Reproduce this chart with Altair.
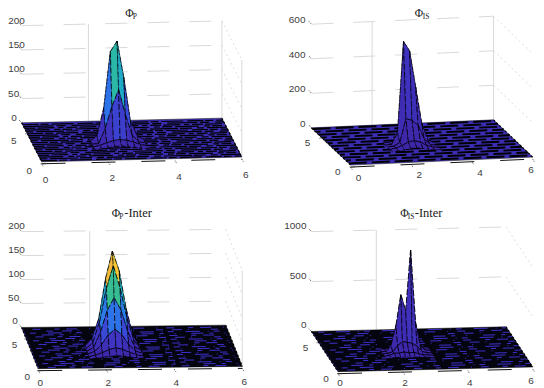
import altair as alt
import pandas as pd

# ---- values ----
X_TICKS = [0, 2, 4, 6]
Y_TICKS = [0, 5]
Y_MAX = 6.5
X_MAX = 6.0

Z_TICKS_P = [0, 50, 100, 150, 200]
Z_TICKS_IS = [0, 200, 400, 600]
Z_TICKS_PI = [0, 50, 100, 150, 200]
Z_TICKS_ISI = [0, 500, 1000]

# surface heights near the peak: rows run back to front, columns left to right
Z_P = [
    [0, 0, 5, 10, 15, 10, 5, 0, 0],
    [0, 11, 67, 183, 204, 129, 39, 8, 0],
    [0, 0, 31, 76, 110, 59, 17, 2, 0],
    [0, 3, 8, 12, 14, 12, 8, 3, 0],
    [0, 2, 4, 6, 7, 5, 3, 1, 0],
]
Z_IS = [
    [0, 0, 10, 60, 60, 40, 10, 0, 0],
    [0, 0, 67, 595, 538, 327, 115, 20, 0],
    [0, 5, 25, 160, 150, 120, 40, 5, 0],
    [0, 8, 20, 40, 45, 35, 15, 5, 0],
    [0, 3, 8, 15, 18, 12, 5, 2, 0],
]
Z_PI = [
    [0, 3, 10, 50, 90, 50, 25, 5, 0],
    [5, 19, 61, 144, 201, 160, 82, 26, 0],
    [3, 15, 59, 128, 175, 128, 66, 20, 0],
    [2, 10, 42, 87, 113, 87, 42, 10, 2],
    [1, 6, 20, 40, 52, 40, 20, 6, 1],
    [0, 3, 8, 14, 18, 14, 8, 3, 0],
    [0, 1, 3, 5, 6, 5, 3, 1, 0],
]
Z_ISI = [
    [0, 0, 10, 20, 60, 40, 80, 30, 5, 0, 0],
    [0, 0, 60, 260, 566, 400, 1010, 293, 43, 5, 0],
    [0, 5, 20, 80, 120, 110, 100, 70, 15, 3, 0],
    [0, 10, 30, 30, 40, 30, 35, 20, 5, 5, 0],
    [2, 5, 15, 10, 15, 8, 12, 5, 10, 3, 0],
]

PARULA = ["#3e26a8", "#3f38c8", "#3060e8", "#2a85ea", "#1fb0c0", "#35bd95", "#90c060", "#f5b93a", "#f9fb15"]

# each panel's camera: where the floor corners fall, and pixels per unit of height
PANELS = [
    dict(name="P", FL=(41.7, 160.7), FR=(242.3, 156.0), BL=(21.7, 121.7), ez=0.487,
         zt=Z_TICKS_P, Z=Z_P, x0=2.56, y0=3.25, dx=0.2, dy=0.5, ridge=1, kmin=-4, clim=220,
         walls=[(2, Y_MAX), (6, Y_MAX), (6, 0)], base="#3b2db2", ink="black", rows=0.3, rw=1.2,
         pats=["a", "b", "c", "d", "e"], zoff=(-5, -5), xoff=(4, 18), yoff=(-12.5, 9)),
    dict(name="IS", FL=(351.3, 164.0), FR=(533.7, 156.0), BL=(312.0, 126.7), ez=0.173,
         zt=Z_TICKS_IS, Z=Z_IS, x0=2.56, y0=3.1, dx=0.2, dy=0.4, ridge=1, kmin=-4, clim=2400,
         walls=[(2, Y_MAX), (6, Y_MAX)], base="#3b2db2", ink="black", rows=0.5, rw=1.9,
         pats=["s", "u"], zoff=(-6, -4), xoff=(8, 13), yoff=(-13, 7)),
    dict(name="PI", FL=(38.3, 368.0), FR=(242.7, 365.7), BL=(21.7, 326.7), ez=0.48,
         zt=Z_TICKS_PI, Z=Z_PI, x0=2.42, y0=3.2, dx=0.2, dy=0.35, ridge=1, kmin=-4, clim=180,
         walls=[(2, Y_MAX), (6, 0)], base="#050510", ink="#3c2fc8", rows=0.3, rw=1.0,
         pats=["f", "g", "h", "i"], zoff=(-4, -6), xoff=(2, 16), yoff=(-11, 8)),
    dict(name="ISI", FL=(338.7, 371.0), FR=(533.7, 366.3), BL=(312.0, 330.7), ez=0.1,
         zt=Z_TICKS_ISI, Z=Z_ISI, x0=2.62, y0=3.04, dx=0.15, dy=0.4, ridge=1, kmin=-6, clim=3000,
         walls=[(2, Y_MAX)], base="#050510", ink="#3c2fc8", rows=0.36, rw=1.0,
         pats=["f", "h", "g", "i"], zoff=(-5, -6), xoff=(2, 14), yoff=(-12, 7)),
]

DASHES = {
    "a": [16, 2, 8, 3, 22, 4], "b": [7, 3, 28, 2, 12, 5], "c": [24, 5, 6, 2, 10, 3],
    "d": [11, 2, 17, 4, 5, 3], "e": [30, 3, 9, 6], "s": [18, 5], "u": [5, 5, 13, 0],
    "f": [1, 9, 8, 14, 5, 7, 11, 12], "g": [1, 16, 12, 6, 4, 11], "h": [1, 5, 6, 12, 14, 8],
    "i": [1, 22, 7, 9, 10, 6],
}

TITLES = [
    ("\u03a6", 125.5, 16.0, 11.5), ("P", 133.0, 18.0, 7.5),
    ("\u03a6", 415.5, 16.0, 11.5), ("IS", 423.5, 18.0, 7.5),
    ("\u03a6", 112.0, 216.0, 11.5), ("P", 119.5, 218.5, 7.5), ("-Inter", 124.5, 216.0, 12.5),
    ("\u03a6", 401.0, 216.0, 11.5), ("IS", 408.5, 218.5, 7.5), ("-Inter", 415.5, 216.0, 12.5),
]


def hexmix(a, b, t):
    ca = [int(a[i:i + 2], 16) for i in (1, 3, 5)]
    cb = [int(b[i:i + 2], 16) for i in (1, 3, 5)]
    return "#%02x%02x%02x" % tuple(round(p + (q - p) * t) for p, q in zip(ca, cb))


def parula(t):
    t = max(0.0, min(0.9999, t ** 1.3)) * (len(PARULA) - 1)
    i = int(t)
    return hexmix(PARULA[i], PARULA[i + 1], t - i)


def project(p, x, y, z=0.0):
    fl, fr, bl = p["FL"], p["FR"], p["BL"]
    u, v = x / X_MAX, y / Y_MAX
    return (fl[0] + u * (fr[0] - fl[0]) + v * (bl[0] - fl[0]),
            fl[1] + u * (fr[1] - fl[1]) + v * (bl[1] - fl[1]) - z * p["ez"])


grid_h, grid_side, grid_v, ticks, axis_lines, edge_lines = [], [], [], [], [], []
floors, rows_black, rows_blue, cells, labels_r, labels_c = [], [], [], [], [], []
lid = 0
for p in PANELS:
    top = p["zt"][-1]
    for z in p["zt"][1:]:
        for name, (a, b) in [("h", ((0, Y_MAX), (X_MAX, Y_MAX))), ("s", ((X_MAX, Y_MAX), (X_MAX, 0)))]:
            lid += 1
            tgt = grid_h if name == "h" else grid_side
            for n, (xx, yy) in enumerate((a, b)):
                sx, sy = project(p, xx, yy, z)
                tgt.append(dict(sx=sx, sy=sy, id=lid, n=n))
    for (xx, yy) in p["walls"]:
        lid += 1
        for n, zz in enumerate((0, top)):
            sx, sy = project(p, xx, yy, zz)
            grid_v.append(dict(sx=sx, sy=sy, id=lid, n=n))
    # floor
    for n, (xx, yy) in enumerate(((0, Y_MAX), (X_MAX, Y_MAX), (X_MAX, 0), (0, 0))):
        sx, sy = project(p, xx, yy)
        floors.append(dict(sx=sx, sy=sy, id=p["name"], n=n, fc=p["base"]))
    yy = p["rows"] * 0.6
    r = 0
    while yy < Y_MAX - 0.05:
        lid += 1
        for n, xx in enumerate((0, X_MAX)):
            sx, sy = project(p, xx, yy)
            (rows_black if p["ink"] == "black" else rows_blue).append(
                dict(sx=sx, sy=sy, id=lid, n=n, pat=p["pats"][r % len(p["pats"])],
                     w=p["rw"]))
        yy += p["rows"]
        r += 1
    # box edges and axis
    for (a, b, off) in (((0, Y_MAX), (0, 0), 0), ((X_MAX, Y_MAX), (X_MAX, 0), 0)):
        lid += 1
        for n, (xx, yy) in enumerate((a, b)):
            sx, sy = project(p, xx, yy)
            edge_lines.append(dict(sx=sx, sy=sy + off, id=lid, n=n))
    lid += 1
    for n, (xx, yy) in enumerate(((0, 0), (X_MAX, 0))):
        sx, sy = project(p, xx, yy)
        axis_lines.append(dict(sx=sx, sy=sy + 2.0, id=lid, n=n))
    # ticks
    for z in p["zt"]:
        sx, sy = project(p, 0, Y_MAX, z)
        ticks.append(dict(x=sx - 2.5, y=sy - 2.8, x2=sx, y2=sy))
        w = 5.6 * len(str(z))
        labels_r.append(dict(x=max(sx + p["zoff"][0], 8 + w), y=sy + p["zoff"][1], t=str(z)))
    for t in X_TICKS:
        sx, sy = project(p, t, 0)
        ticks.append(dict(x=sx, y=sy + 2, x2=sx + 1.5, y2=sy + 4.5))
        labels_c.append(dict(x=min(sx + p["xoff"][0], 532), y=min(sy + p["xoff"][1], 382), t=str(t)))
    for t in Y_TICKS:
        sx, sy = project(p, 0, t)
        ticks.append(dict(x=sx - 1, y=sy + 2, x2=sx + 5, y2=sy + 2))
        labels_c.append(dict(x=sx + p["yoff"][0], y=min(sy + p["yoff"][1], 382), t=str(t)))
    # the peak: painted back to front
    Z = p["Z"]
    for i in range(len(Z) - 1):
        yb = p["y0"] + (p["ridge"] - i) * p["dy"]
        yf = yb - p["dy"]
        for j in range(len(Z[0]) - 1):
            xl = p["x0"] + (p["kmin"] + j) * p["dx"]
            xr = xl + p["dx"]
            corners = [(xl, yb, Z[i][j]), (xr, yb, Z[i][j + 1]), (xr, yf, Z[i + 1][j + 1]), (xl, yf, Z[i + 1][j])]
            mean = sum(c[2] for c in corners) / 4
            lid += 1
            col = parula(mean / p["clim"])
            for n, c in enumerate(corners):
                sx, sy = project(p, *c)
                cells.append(dict(sx=sx, sy=sy, id=lid, n=n, fc=col))

DOMX = alt.Scale(domain=[8, 536], nice=False, zero=False)
DOMY = alt.Scale(domain=[388, 8], nice=False, zero=False)
X = alt.X("sx:Q", scale=DOMX, axis=None)
Y = alt.Y("sy:Q", scale=DOMY, axis=None)
Xr = alt.X("x:Q", scale=DOMX, axis=None)
Yr = alt.Y("y:Q", scale=DOMY, axis=None)


def lines(rows, **mark):
    return alt.Chart(pd.DataFrame(rows)).mark_line(**mark).encode(
        x=X, y=Y, detail="id:N", order="n:Q")


def polys(rows, **mark):
    return alt.Chart(pd.DataFrame(rows)).mark_line(interpolate="linear-closed", **mark).encode(
        x=X, y=Y, detail="id:N", order="n:Q", fill=alt.Fill("fc:N", scale=None, legend=None))


def dashed_rows(rows, color):
    names = sorted(DASHES)
    return alt.Chart(pd.DataFrame(rows)).mark_line(color=color, strokeWidth=rows[0]["w"], strokeCap="butt").encode(
        x=X, y=Y, detail="id:N", order="n:Q",
        strokeDash=alt.StrokeDash("pat:N", scale=alt.Scale(domain=names, range=[DASHES[k] for k in names]), legend=None))


black_wide = [r for r in rows_black if r["w"] > 1.5]
black_thin = [r for r in rows_black if r["w"] <= 1.5]

title_df = pd.DataFrame([dict(t=t, x=x, y=y, s=s) for t, x, y, s in TITLES])

chart = alt.layer(
    lines(grid_h, color="#d9d9d9", strokeWidth=1, strokeDash=[22, 20]),
    lines(grid_side, color="#dddddd", strokeWidth=1, strokeDash=[2, 3]),
    lines(grid_v, color="#d9d9d9", strokeWidth=1),
    polys(floors, stroke="black", strokeWidth=0.5),
    dashed_rows(black_thin, "black"),
    dashed_rows(black_wide, "black"),
    dashed_rows(rows_blue, "#3c2fc8"),
    lines(edge_lines, color="black", strokeWidth=1.2, strokeDash=[2, 2]),
    lines(axis_lines, color="#111111", strokeWidth=1, strokeDash=[24, 26]),
    alt.Chart(pd.DataFrame(ticks)).mark_rule(color="#222222", strokeWidth=0.8, strokeDash=[1, 1]).encode(
        x=Xr, y=Yr, x2="x2:Q", y2="y2:Q"),
    polys(cells, stroke="black", strokeWidth=0.7, strokeDash=[6, 2]),
    alt.Chart(pd.DataFrame(labels_r)).mark_text(align="right", baseline="middle", font="Liberation Sans",
                                                fontSize=10, color="#404040").encode(x=Xr, y=Yr, text="t:N"),
    alt.Chart(pd.DataFrame(labels_c)).mark_text(align="center", baseline="middle", font="Liberation Sans",
                                                fontSize=10, color="#404040").encode(x=Xr, y=Yr, text="t:N"),
    alt.Chart(title_df).mark_text(align="left", baseline="alphabetic", font="Liberation Serif",
                                  color="#222222").encode(x=Xr, y=Yr, text="t:N",
                                                          size=alt.Size("s:Q", scale=None, legend=None)),
).properties(width=528, height=380, padding=0).configure_view(stroke=None)

chart.save("out.html", embed_options={"renderer": "svg", "actions": False})
